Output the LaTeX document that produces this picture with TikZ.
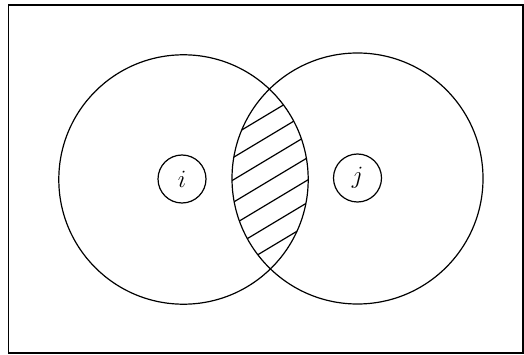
\documentclass[tikz,border=0pt]{standalone}
\begin{document}
\begin{tikzpicture}[x=1pt,y=-1pt,
  ln/.style={line width=1.2pt,black},
  lab/.style={circle,draw,line width=1.2pt,minimum size=48pt,inner sep=0pt,font=\fontsize{28}{30}\selectfont}]
\useasboundingbox (0,0) rectangle (524,355);
\draw[ln] (8.5,5) rectangle (523,353);
\coordinate (ca) at (183.5,179.5);
\coordinate (cb) at (357.5,178.5);
\begin{scope}
  \clip (ca) circle (124.7);
  \clip (cb) circle (125.5);
  \foreach \c in {113,135.4,157.8,180.2,202.6,225,247.4}
    \draw[ln] (210,\c+36) -- (330,\c-36);
\end{scope}
\draw[ln] (ca) circle (124.7);
\draw[ln] (cb) circle (125.5);
\node[lab] (i) at (182,179) {$i$};
\node[lab] (j) at (357.5,178) {$j$};
\end{tikzpicture}
\end{document}
